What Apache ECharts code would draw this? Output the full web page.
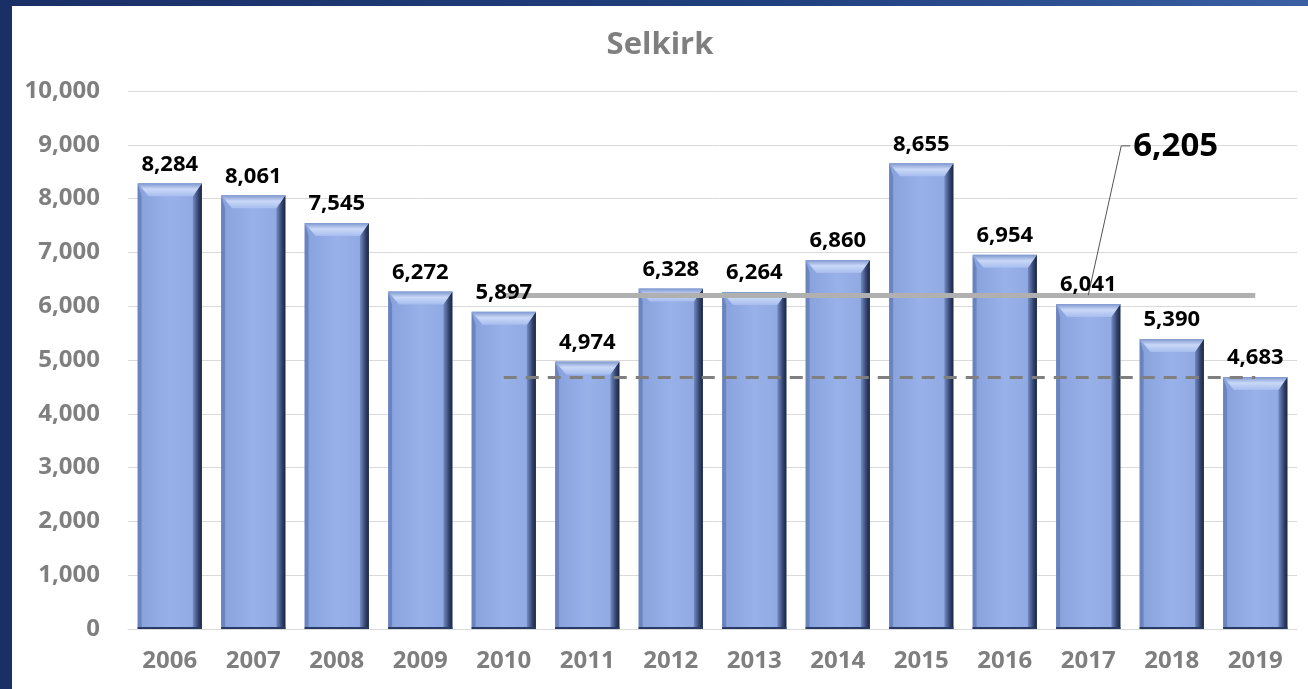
<!DOCTYPE html>
<html><head><meta charset="utf-8">
<script src="https://cdn.jsdelivr.net/npm/echarts@6/dist/echarts.min.js"></script>
<style>
html,body{margin:0;padding:0;width:1308px;height:689px;overflow:hidden;background:linear-gradient(90deg,#1a2f66 0%,#20407f 60%,#3a5fa3 100%);}
#c{position:absolute;left:12px;top:6px;width:1296px;height:683px;background:#fff;}
</style></head>
<body><div id="c"></div>
<script>
const title = 'Selkirk';
const years = ['2006','2007','2008','2009','2010','2011','2012','2013','2014','2015','2016','2017','2018','2019'];
const values = [8284,8061,7545,6272,5897,4974,6328,6264,6860,8655,6954,6041,5390,4683];
const averageValue = 6205;
const averageLabel = '6,205';
const lowValue = 4683;
const lineStart = '2010';
const lineEnd = '2019';
const calloutAnchor = '2017';
const calloutValue = 8980;

const FONT = 'Open Sans';
const chart = echarts.init(document.getElementById('c'));
const fmt = v => v.toLocaleString('en-US');
const BAR_RATIO = 0.77;

function bevelItem(params, api){
  const idx = api.value(0), val = api.value(1);
  const top = api.coord([idx, val]);
  const base = api.coord([idx, 0]);
  const w = api.size([1,0])[0]*BAR_RATIO;
  const x0 = top[0]-w/2, x1 = top[0]+w/2, y0 = top[1], yb = base[1];
  const b = 13, r = 9, l = 4;
  return {type:'group', silent:true, children:[
    {type:'polygon', shape:{points:[[x1-r,y0+b],[x1,y0],[x1,yb],[x1-r,yb]]},
      style:{fill:new echarts.graphic.LinearGradient(0,0,1,0,[{offset:0,color:'rgba(60,80,130,0.35)'},{offset:0.6,color:'#33446e'},{offset:1,color:'#1b2540'}])}},
    {type:'polygon', shape:{points:[[x0,y0],[x0+l,y0+b],[x0+l,yb],[x0,yb]]},
      style:{fill:'rgba(70,95,150,0.45)'}},
    {type:'polygon', shape:{points:[[x0,y0],[x1,y0],[x1-r,y0+b],[x0+l+7,y0+b]]},
      style:{fill:new echarts.graphic.LinearGradient(0,0,0,1,[{offset:0,color:'#7e97cf'},{offset:0.45,color:'#c9d8f7'},{offset:1,color:'#a7bdef'}])}},
    {type:'line', shape:{x1:x0,y1:yb-1,x2:x1,y2:yb-1}, style:{stroke:'#2a3a66',lineWidth:2}}
  ]};
}

chart.setOption({
  animation:false,
  backgroundColor:'#fff',
  title:{text:title,left:'center',top:19,textStyle:{fontFamily:FONT,fontWeight:'bold',fontSize:31,color:'#7f7f7f'}},
  grid:{left:116,right:11,top:85,bottom:60,containLabel:false},
  xAxis:{type:'category',data:years,
    axisLine:{lineStyle:{color:'#d9d9d9'}},axisTick:{show:false},
    axisLabel:{margin:20,fontFamily:FONT,fontWeight:'bold',fontSize:24,color:'#7f7f7f'}},
  yAxis:{type:'value',min:0,max:10000,interval:1000,
    axisLine:{show:false},axisTick:{show:false},
    splitLine:{lineStyle:{color:'#d9d9d9',width:1}},
    axisLabel:{margin:28,fontFamily:FONT,fontWeight:'bold',fontSize:24,color:'#7f7f7f',formatter:fmt}},
  series:[{
    type:'bar',data:values,barWidth:(BAR_RATIO*100)+'%',
    itemStyle:{
      color:new echarts.graphic.LinearGradient(0,0,1,0,[
        {offset:0,color:'#87a1dc'},{offset:0.5,color:'#98b1e9'},{offset:1,color:'#8ea7e0'}])
    },
    z:2
  },{
    type:'custom',data:values.map((v,i)=>[i,v]),renderItem:bevelItem,z:3,silent:true
  },{
    type:'line',data:[],z:6,
    markLine:{symbol:'none',silent:true,label:{show:false},z:6,
      data:[
        [{coord:[lineStart,averageValue],lineStyle:{color:'#b0b0b0',width:5,type:'solid'}},{coord:[lineEnd,averageValue]}],
        [{coord:[lineStart,lowValue],lineStyle:{color:'#7f7f7f',width:3,type:[13,9]}},{coord:[lineEnd,lowValue]}]
      ]}
  },{
    type:'bar',data:values,barWidth:(BAR_RATIO*100)+'%',barGap:'-100%',z:8,silent:true,
    itemStyle:{color:'rgba(0,0,0,0)'},
    label:{show:true,position:'top',distance:8,fontFamily:FONT,fontWeight:'bold',fontSize:22,color:'#000',formatter:p=>fmt(p.value)}
  }]
});
const p0 = chart.convertToPixel({seriesIndex:0},[calloutAnchor,averageValue]);
const p1y = chart.convertToPixel({seriesIndex:0},[calloutAnchor,calloutValue])[1];
const p1 = [p0[0]+33,p1y];
chart.setOption({graphic:[
  {type:'polyline',shape:{points:[p0,p1,[p1[0]+9,p1[1]]]},style:{stroke:'#555',lineWidth:1,fill:null},z:10},
  {type:'text',x:p1[0]+12,y:p1[1]+1,style:{text:averageLabel,fontFamily:FONT,fontWeight:'bold',fontSize:33,fill:'#000',verticalAlign:'middle'},z:10}
]});
</script></body></html>
